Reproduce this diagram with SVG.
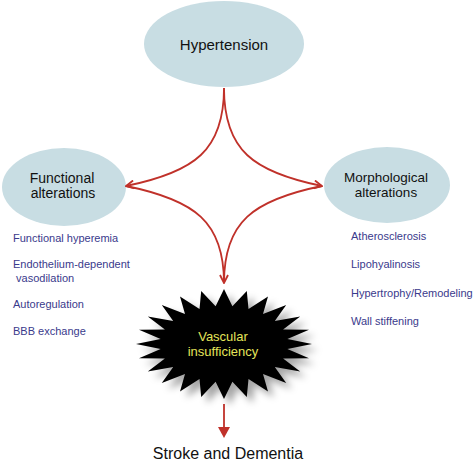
<svg xmlns="http://www.w3.org/2000/svg" width="474" height="466" viewBox="0 0 474 466">
<defs>
<style>
.node{fill:#c8dde3;}
.lbl{font-family:"Liberation Sans",Arial,sans-serif;fill:#111;text-anchor:middle;}
.item{font-family:"Liberation Sans",Arial,sans-serif;fill:#3a3a8c;font-size:11px;}
.con{fill:none;stroke:#c0312a;stroke-width:1.8;}
</style>
<marker id="vhead" viewBox="0 0 10 10" refX="9" refY="5" markerWidth="10" markerHeight="10" markerUnits="userSpaceOnUse" orient="auto">
<path d="M1,1 L9,5 L1,9" fill="none" stroke="#c0312a" stroke-width="1.8"/>
</marker>
<filter id="shadow" x="-20%" y="-20%" width="150%" height="150%">
<feGaussianBlur in="SourceAlpha" stdDeviation="3.5"/>
<feOffset dx="6" dy="6" result="b"/>
<feFlood flood-color="#000" flood-opacity="0.35"/>
<feComposite in2="b" operator="in"/>
<feMerge><feMergeNode/><feMergeNode in="SourceGraphic"/></feMerge>
</filter>
</defs>
<rect width="474" height="466" fill="#fff"/>

<g id="hypertension">
<ellipse class="node" cx="224" cy="44" rx="80" ry="43"/>
<text class="lbl" x="224" y="50" font-size="15">Hypertension</text>
</g>

<g id="functional">
<ellipse class="node" cx="64" cy="187" rx="62" ry="39"/>
<text class="lbl" x="62" y="183" font-size="14">Functional</text>
<text class="lbl" x="63" y="198" font-size="14">alterations</text>
<text class="item" x="13" y="242">Functional hyperemia</text>
<text class="item" x="13" y="268">Endothelium-dependent</text>
<text class="item" x="13" y="282" xml:space="preserve"> vasodilation</text>
<text class="item" x="13" y="308">Autoregulation</text>
<text class="item" x="13" y="335">BBB exchange</text>
</g>

<g id="morphological">
<ellipse class="node" cx="387" cy="185" rx="63" ry="38"/>
<text class="lbl" x="386" y="182" font-size="13.5">Morphological</text>
<text class="lbl" x="386" y="197" font-size="13.5">alterations</text>
<text class="item" x="351" y="240">Atherosclerosis</text>
<text class="item" x="351" y="268">Lipohyalinosis</text>
<text class="item" x="351" y="297">Hypertrophy/Remodeling</text>
<text class="item" x="351" y="325">Wall stiffening</text>
</g>

<g id="connectors">
<path class="con" d="M224,88 C224,150 195,172 126,186" marker-end="url(#vhead)"/>
<path class="con" d="M224,88 C224,150 253,172 322,186" marker-end="url(#vhead)"/>
<path class="con" d="M126,186 C195,200 224,222 224,283"/>
<path class="con" d="M322,186 C253,200 224,222 224,283" marker-end="url(#vhead)"/>
<line class="con" x1="224" y1="404" x2="224" y2="430"/>
<path d="M218,427 L224,438 L230,427 Z" fill="#c0312a"/>
</g>

<g id="vascular">
<polygon filter="url(#shadow)" fill="#000" points="224,289 232.4,306.3 246.8,290.9 248.5,308.9 268,296.4 263,313.9 286.2,305.1 274.8,320.9 300.2,316.5 283.1,329.5 309,329.8 287.4,339 312,344 287.4,349 309,358.2 283.1,358.5 300.2,371.5 274.8,367.1 286.2,382.9 263,374.1 268,391.6 248.5,379.1 246.8,397.1 232.4,381.7 224,399 215.6,381.7 201.2,397.1 199.5,379.1 180,391.6 185,374.1 161.8,382.9 173.2,367.1 147.8,371.5 164.9,358.5 139,358.2 160.6,349 136,344 160.6,339 139,329.8 164.9,329.5 147.8,316.5 173.2,320.9 161.8,305.1 185,313.9 180,296.4 199.5,308.9 201.2,290.9 215.6,306.3"/>
<text class="lbl" x="223" y="341" font-size="13" style="fill:#e4e45a">Vascular</text>
<text class="lbl" x="223" y="356" font-size="13" style="fill:#e4e45a">insufficiency</text>
</g>

<g id="stroke">
<text class="lbl" x="228" y="459" font-size="16">Stroke and Dementia</text>
</g>
</svg>
